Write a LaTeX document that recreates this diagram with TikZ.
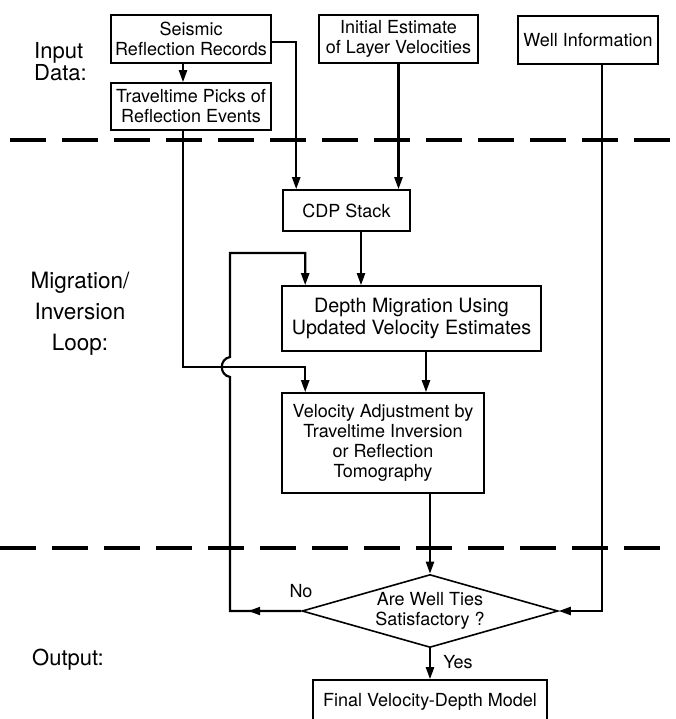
\documentclass[tikz,border=0pt]{standalone}
\usepackage{fontspec}
\setmainfont{TeX Gyre Heros}
\usetikzlibrary{arrows.meta,positioning,shapes.geometric}

\tikzset{
  box/.style={draw, line width=1.6pt, align=center, inner sep=0pt,
    font=\fontsize{18}{20}\selectfont},
  arr/.style={-{Triangle[length=12pt,width=8pt]}, line width=2.2pt},
  divider/.style={line width=3.5pt, dash pattern=on 36pt off 16pt},
  side/.style={inner sep=0pt},
}

\begin{document}
\begin{tikzpicture}[x=1pt,y=-1pt]
\useasboundingbox (0,0) rectangle (675,719);

\draw[divider] (10,140) -- (675,140);
\draw[divider] (0,548) -- (675,548);

\node[side, anchor=west, align=left, font=\fontsize{22}{22}\selectfont]
  (lblinput) at (34,62) {Input\\Data:};
\node[side, align=center, font=\fontsize{22.5}{31}\selectfont]
  (lblloop) at (80,314) {Migration/\\Inversion\\Loop:};
\node[side, anchor=west, font=\fontsize{22}{22}\selectfont]
  (lbloutput) at (32,660) {Output:};

\node[box, minimum width=160pt, minimum height=48pt] (seis) at (191,39)
  {Seismic\\Reflection Records};
\node[box, minimum width=160pt, minimum height=47pt] (picks) at (191,106.5)
  {Traveltime Picks of\\Reflection Events};
\node[box, minimum width=159pt, minimum height=48pt] (initvel) at (398.5,39)
  {Initial Estimate\\of Layer Velocities};
\node[box, minimum width=140pt, minimum height=48pt] (wellinfo) at (588,40)
  {Well Information};
\node[box, minimum width=127pt, minimum height=41pt] (cdp) at (346.5,210.5)
  {CDP Stack};
\node[box, minimum width=259pt, minimum height=65pt,
  font=\fontsize{19.7}{22}\selectfont] (depthmig) at (411.5,318.5)
  {Depth Migration Using\\Updated Velocity Estimates};
\node[box, minimum width=202pt, minimum height=100pt] (veladj) at (383,443)
  {Velocity Adjustment by\\Traveltime Inversion\\or Reflection\\Tomography};
\node[box, shape=diamond, aspect=3.5, minimum width=256pt, minimum height=73pt]
  (ties) at (430,611) {Are Well Ties\\Satisfactory ?};
\node[box, minimum width=234pt, minimum height=44pt] (final) at (430,702)
  {Final Velocity-Depth Model};

\node[font=\fontsize{18}{20}\selectfont] (lblno) at (301,591) {No};
\node[font=\fontsize{18}{20}\selectfont] (lblyes) at (458,662) {Yes};

\coordinate (hop) at (230,367);
\coordinate (loopturn) at (230,253);

\draw[arr] ([xshift=-8pt]seis.south) -- ([xshift=-8pt]picks.north);
\draw[arr] ([yshift=-3pt]seis.east) -| ([xshift=14pt]cdp.north west);
\draw[arr] (initvel.south) -- (initvel.south |- cdp.north);
\draw[arr] ([xshift=14pt]wellinfo.south) |- (ties.east);
\draw[arr] ([xshift=14.5pt]cdp.south) -- ([xshift=14.5pt]cdp.south |- depthmig.north);
\draw[arr] ([xshift=14.5pt]depthmig.south) -- ([xshift=14.5pt]depthmig.south |- veladj.north);
\draw[arr] ([xshift=-8pt]picks.south) |- (hop) -| ([xshift=24pt]veladj.north west);
\draw[arr] (veladj.south -| ties.north) -- (ties.north);
\draw[arr] (ties.south) -- (final.north);

% no-branch back to the migration
\draw[arr] (ties.west) -| ([yshift=-10pt]hop)
  .. controls +(-11,-2) and +(-11,2) .. ([yshift=10pt]hop)
  -- (loopturn) -| ([xshift=24pt]depthmig.north west);
\draw[arr] (ties.west) -- ++(-53,0);
\end{tikzpicture}
\end{document}
